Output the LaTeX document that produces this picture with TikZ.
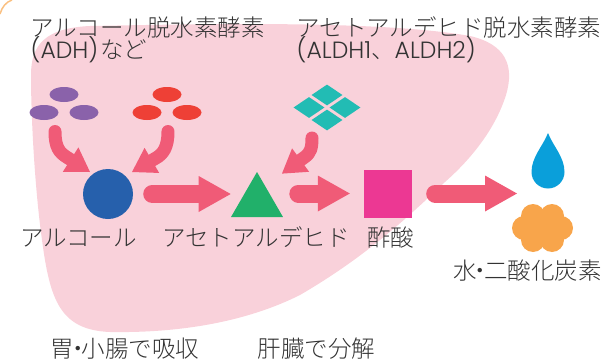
\documentclass[tikz,border=0pt]{standalone}
\usepackage{fontspec}
\IfFontExistsTF{Noto Sans CJK JP Light}{\setmainfont{Noto Sans CJK JP Light}}{\setmainfont{Noto Sans CJK JP}}
\IfFontExistsTF{Poppins Light}{\newfontfamily\latin{Poppins Light}}{\newfontfamily\latin{Poppins}}
\usetikzlibrary{arrows.meta,shapes.geometric,calc}
\definecolor{liver}{HTML}{F9D1DA}
\definecolor{arrowpink}{HTML}{F05B77}
\definecolor{adhpurple}{HTML}{8A62AA}
\definecolor{adhred}{HTML}{EE4036}
\definecolor{alcblue}{HTML}{2660AC}
\definecolor{acetgreen}{HTML}{21B06A}
\definecolor{acidpink}{HTML}{EC3893}
\definecolor{aldhteal}{HTML}{22BCB4}
\definecolor{waterblue}{HTML}{0A9FDA}
\definecolor{gasorange}{HTML}{F8A54B}
\definecolor{txt}{HTML}{333333}
\begin{document}
\begin{tikzpicture}[x=1pt,y=-1pt,
  lbl/.style={font=\fontsize{23.5}{23.5}\selectfont, text=txt, inner sep=0pt},
  enz/.style={ellipse, minimum width=29pt, minimum height=15pt, inner sep=0pt},
  tile/.style={diamond, aspect=1.5, minimum width=31pt, minimum height=21pt, inner sep=0pt, fill=aldhteal},
  flow/.style={draw=arrowpink, line width=18pt, line cap=round, -{Triangle[length=32pt,width=36pt,line width=0pt]}},
  curvy/.style={draw=arrowpink, line width=13pt, line cap=round, -{Triangle[length=23pt,width=29pt,line width=0pt]}}]
\useasboundingbox (0,0) rectangle (614,359);

	\draw[gasorange!70, line width=1.5pt] (0,14) .. controls (2,7) and (6,2) .. (12,0);
	% liver
	\fill[liver] (31,75) .. controls (31,45) and (45,28) .. (90,26)
	  .. controls (200,24) and (380,20) .. (470,36)
	  .. controls (505,44) and (515,65) .. (506,95)
	  .. controls (495,130) and (470,160) .. (445,182)
	  .. controls (400,225) and (360,260) .. (300,295)
	  .. controls (240,325) and (170,333) .. (110,332)
	  .. controls (60,330) and (50,300) .. (42,240)
	  .. controls (35,190) and (31,120) .. (31,75) -- cycle;

	\node[enz, fill=adhpurple] (adh1) at (64,94.5) {};
	\node[enz, fill=adhpurple] (adh2) at (44,112.5) {};
	\node[enz, fill=adhpurple] (adh3) at (84,112.5) {};
	\node[enz, fill=adhred] (adh4) at (167,94.5) {};
	\node[enz, fill=adhred] (adh5) at (147,112.5) {};
	\node[enz, fill=adhred] (adh6) at (187,112.5) {};

	\node[tile] (aldh1) at (327,95) {};
	\node[tile] (aldh2) at (309,107.5) {};
	\node[tile] (aldh3) at (345,107.5) {};
	\node[tile] (aldh4) at (327,120) {};

	\node[circle, fill=alcblue, minimum size=50pt, inner sep=0pt] (alc) at (108,194) {};
	\node[regular polygon, regular polygon sides=3, minimum size=60pt, inner sep=0pt, fill=acetgreen] (acet) at (257,202) {};
	\node[fill=acidpink, minimum size=48pt, inner sep=0pt] (acid) at (388,193.5) {};

	% water and carbon dioxide
	\fill[waterblue] (548,133) .. controls (553,146) and (564.5,157) .. (564.5,172)
	  .. controls (564.5,181.1) and (557.1,188.5) .. (548,188.5)
	  .. controls (538.9,188.5) and (531.5,181.1) .. (531.5,172)
	  .. controls (531.5,157) and (543,146) .. (548,133) -- cycle;
	\fill[gasorange] (542.5,228) circle (16pt);
	\foreach \cx/\cy in {533/216,552/216,524/228,561/228,533/240,552/240}
	  \fill[gasorange] (\cx,\cy) circle (12pt);
	\coordinate (prod) at (517,195);

	\coordinate (adhout) at (55,131.5);
	\coordinate (redout) at (168,131.5);
	\coordinate (aldhout) at (312,138);
	\draw[curvy] (adhout) .. controls +(0,16) and +(-7,-4.5) .. ($(alc)+(-41.5,-37)$) -- ($(alc)+(-18,-22)$);
	\draw[curvy] (redout) .. controls +(0,16) and +(7,-4) .. ($(alc)+(48,-36)$) -- ($(alc)+(24,-22)$);
	\draw[curvy] (aldhout) .. controls +(0,10) and +(6,-4.4) .. ($(acet.corner 1)+(47.7,-14.5)$) -- ($(acet.corner 1)+(25,2)$);

	\draw[flow, shorten <=19pt] (alc.east) -- (alc.east -| acet.corner 2);
	\draw[flow, shorten <=15pt, shorten >=14pt] (acet.corner 3 |- acid.west) -- (acid.west);
	\draw[flow, shorten <=23pt] (acid.east) -- (acid.east -| prod);

	\node[lbl, anchor=base west] (adhname) at (30.5,36) {アルコール脱水素酵素};
	\node[lbl, anchor=base west] (adhnote) at (30.5,58.5) {{\latin(ADH)}\kern2pt など};
	\node[lbl, anchor=base west] (aldhname) at (296.5,36) {アセトアルデヒド脱水素酵素};
	\node[lbl, anchor=base west] (aldhnote) at (296.5,58.5) {{\latin(ALDH1}、{\latin ALDH2)}};

	\node[lbl, anchor=base] (alcname) at (78.5,246.5) {アルコール};
	\node[lbl, anchor=base] (acetname) at (256,246.5) {アセトアルデヒド};
	\node[lbl, anchor=base] (acidname) at (390.5,246.5) {酢酸};
	\node[lbl, anchor=base] (prodname) at (527.5,279) {水\kern-8pt・\kern-8pt 二酸化炭素};

	\node[lbl, anchor=base] (gutname) at (125,357) {胃\kern-8pt・\kern-8pt 小腸で吸収};
	\node[lbl, anchor=base] (livername) at (316.5,357) {肝臓で分解};

\end{tikzpicture}
\end{document}
